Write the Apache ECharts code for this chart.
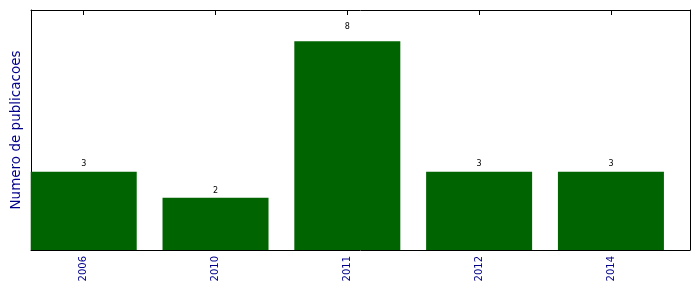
<!DOCTYPE html>
<html>
<head>
<meta charset="utf-8">
<script src="https://cdn.jsdelivr.net/npm/echarts@6/dist/echarts.min.js"></script>
<style>html,body{margin:0;padding:0;background:#fff}#c{width:699px;height:292px}</style>
</head>
<body>
<div id="c"></div>
<script>
var categories = ['2006', '2010', '2011', '2012', '2014'];
var values = [3, 2, 8, 3, 3];
var yLabel = 'Numero de publicacoes';
var labelLift = 1.05; // labels sit at 1.05 x bar height (as in the original plot code)

var positions = categories.map(function (c, i) { return i; });
var barData = values.map(function (v, i) { return [i, v]; });
var labelData = values.map(function (v, i) { return {value: [i, v * labelLift], shown: v}; });

var chart = echarts.init(document.getElementById('c'), null, {renderer: 'canvas'});
var font = 'DejaVu Sans';
chart.setOption({
  animation: false,
  textStyle: {fontFamily: font},
  grid: {left: 31, top: 10, right: 9, bottom: 42, containLabel: false},
  xAxis: [{
    type: 'value', min: -0.4, max: 4.6,
    splitLine: {show: false},
    axisLine: {show: true, onZero: false, lineStyle: {color: '#000', width: 1}},
    axisTick: {show: true, inside: true, length: 5, customValues: positions, lineStyle: {color: '#000'}},
    axisLabel: {show: true, customValues: positions, rotate: 90, margin: 6, fontSize: 10, color: '#00008b', fontFamily: font,
      formatter: function (v) { return categories[Math.round(v)]; }}
  }, {
    type: 'value', min: -0.4, max: 4.6, position: 'top',
    splitLine: {show: false},
    axisLine: {show: true, onZero: false, lineStyle: {color: '#000', width: 1}},
    axisTick: {show: true, inside: true, length: 5, customValues: positions, lineStyle: {color: '#000'}},
    axisLabel: {show: false}
  }],
  yAxis: [{
    type: 'value', min: 0, max: 9.2,
    splitLine: {show: false},
    axisLine: {show: true, onZero: false, lineStyle: {color: '#000', width: 1}},
    axisTick: {show: false},
    axisLabel: {show: false},
    name: yLabel, nameLocation: 'middle', nameGap: 8,
    nameTextStyle: {fontSize: 13.5, color: '#00008b', fontFamily: font}
  }, {
    type: 'value', min: 0, max: 9.2, position: 'right',
    splitLine: {show: false},
    axisLine: {show: true, onZero: false, lineStyle: {color: '#000', width: 1}},
    axisTick: {show: false},
    axisLabel: {show: false}
  }],
  series: [{
    type: 'bar',
    xAxisIndex: 0, yAxisIndex: 0,
    data: barData,
    barWidth: 106,
    itemStyle: {color: '#006400'}
  }, {
    type: 'scatter',
    xAxisIndex: 0, yAxisIndex: 0,
    data: labelData,
    symbolSize: 0,
    silent: true,
    itemStyle: {opacity: 1},
    label: {show: true, position: 'top', distance: 0, fontSize: 8, color: '#000', opacity: 1, fontFamily: font,
      formatter: function (p) { return String(p.data.shown); }}
  }]
});
</script>
</body>
</html>
